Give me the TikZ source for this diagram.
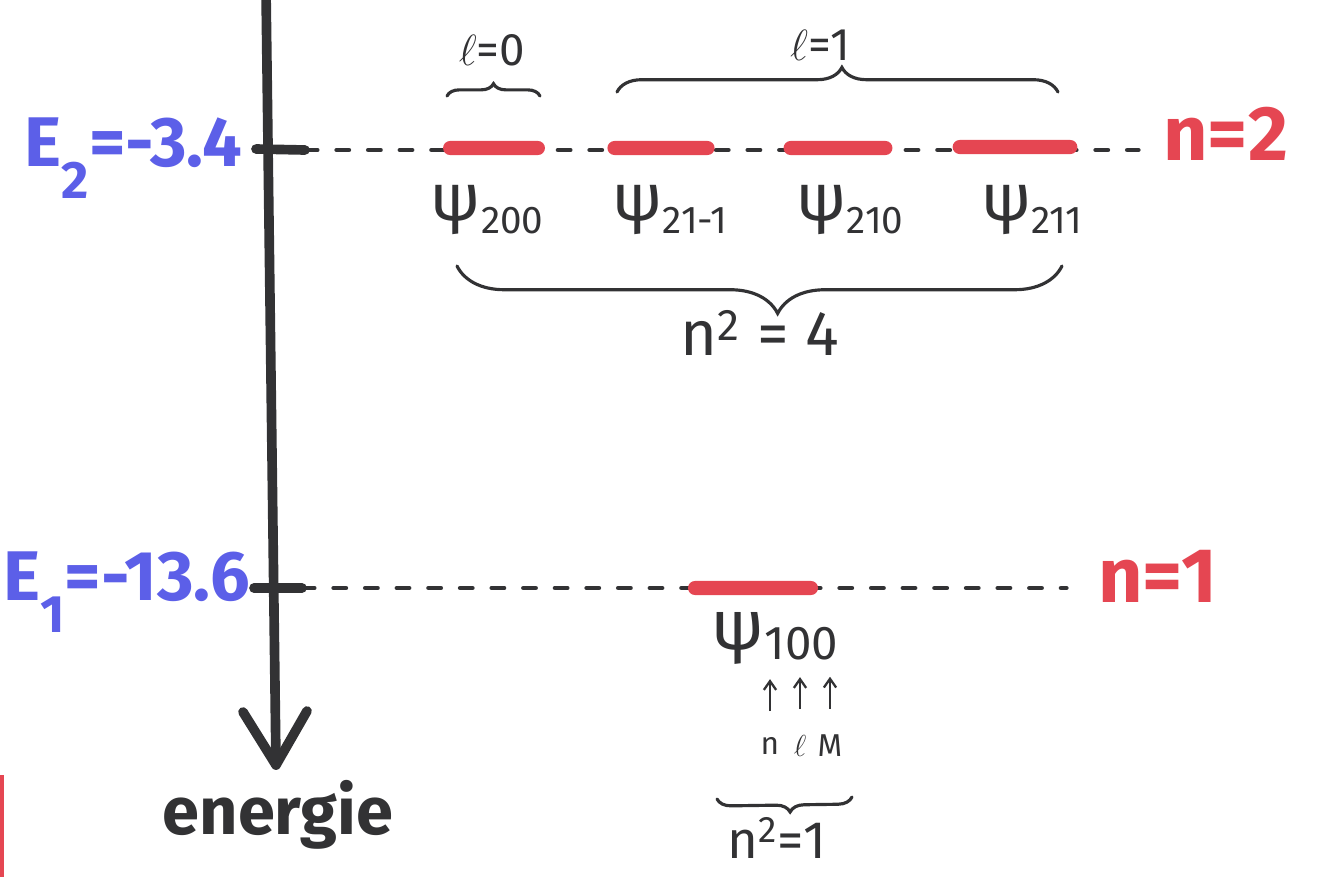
\documentclass[tikz,border=0pt]{standalone}
\usepackage{fontspec}
\setmainfont{Fira Sans}
\usetikzlibrary{decorations.pathreplacing,calc,arrows.meta}
\definecolor{inkblue}{RGB}{92,95,232}
\definecolor{inkred}{RGB}{229,70,82}
\definecolor{ink}{RGB}{50,50,52}
\begin{document}
\begin{tikzpicture}[x=0.02cm,y=-0.02cm,
  axisline/.style={line width=5.5pt,ink,line cap=round,line join=round},
  levelline/.style={line width=2.6pt,ink,line cap=round,dash pattern=on 7pt off 11pt},
  levelbar/.style={fill=inkred,rounded corners=4pt,minimum height=8pt,inner sep=0pt},
  energylabel/.style={inkblue,font=\fontsize{40}{40}\selectfont\bfseries,inner sep=0pt},
  nlabel/.style={inkred,font=\fontsize{44}{44}\selectfont\bfseries,inner sep=0pt},
  psilabel/.style={ink,font=\fontsize{38}{38}\selectfont,inner sep=0pt},
  smalltext/.style={ink,font=\fontsize{26}{26}\selectfont,inner sep=0pt},
  bracestyle/.style={ink,line width=1.8pt,decorate,line cap=round},
  smallarrow/.style={ink,line width=1.3pt,-{Straight Barb[length=5pt,width=7pt]}}
]
\useasboundingbox (0,0) rectangle (1326,877);
% scan edge mark
\fill[inkred] (0,775) rectangle (4,877);

% axis
\coordinate (top) at (266,-10);
\coordinate (tip) at (276,765);
\coordinate (armL) at (243,712);
\coordinate (armR) at (307,711);
\draw[axisline] (top) -- (tip);
\draw[axisline] (armL) -- (tip) -- (armR);
\node[ink,font=\fontsize{38}{38}\selectfont\bfseries,inner sep=0pt] (energie) at (278,815) {energie};

% ticks
\coordinate (t2a) at (256,149);
\coordinate (t2b) at (305,150);
\coordinate (t1a) at (254,588);
\coordinate (t1b) at (302,588);
\draw[axisline] (t2a) -- (t2b);
\draw[axisline] (t1a) -- (t1b);

% energy labels
\node[energylabel,anchor=east] (E2) at (242,158) {E\raisebox{-0.45em}{\fontsize{30}{30}\selectfont 2}=-3.4};
\node[energylabel,anchor=east] (E1) at (250,592) {E\raisebox{-0.45em}{\fontsize{30}{30}\selectfont 1}=-13.6};

% n labels
\node[nlabel,anchor=west] (n2) at (1163,134) {n=2};
\node[nlabel,anchor=west] (n1) at (1098,576) {n=1};

% level lines
\draw[levelline,shorten >=14pt] (t2b) -- (n2.west |- t2b);
\draw[levelline,shorten >=18pt] (t1b) -- (n1.west |- t1b);

% n=2 states
\node[levelbar,minimum width=58pt] (b200) at (494,148) {};
\node[levelbar,minimum width=61pt] (b21m) at (661,148) {};
\node[levelbar,minimum width=62pt] (b210) at (838,148) {};
\node[levelbar,minimum width=71pt] (b211) at (1015,147) {};

\node[psilabel] (p200) at (487,210) {ψ\raisebox{-0.2em}{\fontsize{22}{22}\selectfont 200}};
\node[psilabel] (p21m) at (670,210) {ψ\raisebox{-0.2em}{\fontsize{22}{22}\selectfont 21-1}};
\node[psilabel] (p210) at (850,210) {ψ\raisebox{-0.2em}{\fontsize{22}{22}\selectfont 210}};
\node[psilabel] (p211) at (1032,210) {ψ\raisebox{-0.2em}{\fontsize{22}{22}\selectfont 211}};

% l braces
\coordinate (l0a) at (447,96);
\coordinate (l0b) at (540,96);
\draw[bracestyle,decoration={brace,amplitude=7pt}] (l0a) -- (l0b);
\node[smalltext] (l0) at (492,50) {$\ell$=0};
\coordinate (l1a) at (617,92);
\coordinate (l1b) at (1058,92);
\draw[bracestyle,decoration={brace,amplitude=14pt,aspect=0.51}] (l1a) -- (l1b);
\node[smalltext] (l1) at (820,45) {$\ell$=1};

% n^2=4 brace
\coordinate (bra) at (1062,266);
\coordinate (brb) at (457,266);
\draw[bracestyle,decoration={brace,amplitude=27pt,aspect=0.47}] (bra) -- (brb);
\node[ink,font=\fontsize{36}{36}\selectfont,inner sep=0pt] (n4) at (760,333) {n\textsuperscript{2} = 4};

% n=1 state
\node[levelbar,minimum width=74pt] (b100) at (753,588) {};
\node[psilabel,font=\fontsize{40}{40}\selectfont] (p100) at (775,638) {ψ\raisebox{-0.15em}{\fontsize{27}{27}\selectfont 100}};

\node[ink,font=\fontsize{18}{18}\selectfont,inner sep=0pt] (qn) at (770,746) {n};
\node[ink,font=\fontsize{18}{18}\selectfont,inner sep=0pt] (ql) at (800,746) {$\ell$};
\node[ink,font=\fontsize{18}{18}\selectfont,inner sep=0pt] (qm) at (830,746) {M};
\draw[smallarrow] (qn.north) ++(0,-26) -- ++(0,-32);
\draw[smallarrow] (ql.north) ++(0,-26) -- ++(0,-32);
\draw[smallarrow] (qm.north) ++(0,-26) -- ++(0,-32);

\coordinate (sba) at (852,797);
\coordinate (sbb) at (717,799);
\draw[bracestyle,decoration={brace,amplitude=8pt,aspect=0.46}] (sba) -- (sbb);
\node[ink,font=\fontsize{30}{30}\selectfont,inner sep=0pt] (n1sq) at (777,838) {n\textsuperscript{2}=1};
\end{tikzpicture}
\end{document}
